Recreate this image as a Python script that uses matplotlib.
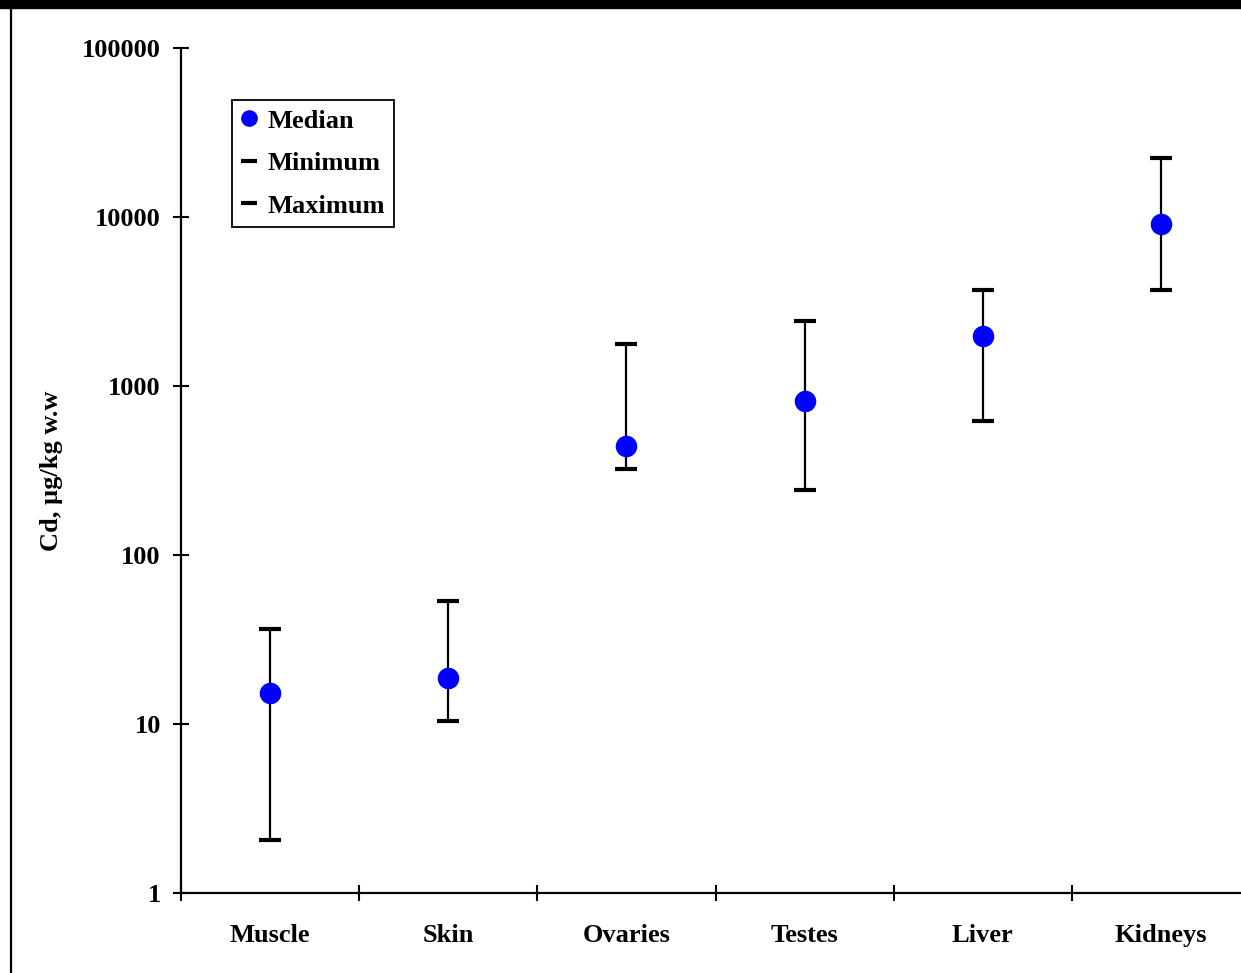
import numpy as np
import matplotlib.pyplot as plt
from matplotlib.patches import Rectangle
from matplotlib.lines import Line2D

# Cd concentrations, ug/kg wet weight
tissues = ['Muscle', 'Skin', 'Ovaries', 'Testes', 'Liver', 'Kidneys']
median = [15.3, 18.7, 442, 815, 1977, 9100]
minimum = [2.06, 10.4, 323, 242, 621, 3700]
maximum = [36.5, 53.4, 1773, 2425, 3700, 22300]

plt.rcParams['font.family'] = ['Liberation Serif', 'DejaVu Serif']
plt.rcParams['font.weight'] = 'bold'

fig = plt.figure(figsize=(12.41, 9.73), dpi=100)
ax = fig.add_axes([181/1241, 80/973, 1069/1241, 845/973])

x = np.arange(len(tissues)) + 0.5
ax.vlines(x, minimum, maximum, color='black', lw=1.6, zorder=2)
ax.plot(x, minimum, '_', color='black', ms=16, mew=3, zorder=3, label='Minimum')
ax.plot(x, maximum, '_', color='black', ms=16, mew=3, zorder=3, label='Maximum')
ax.plot(x, median, 'o', color='#0000ff', ms=14.5, zorder=4, label='Median')

ax.set_yscale('log')
ax.set_ylim(1, 100000)
ax.set_xlim(0, len(tissues))
ax.set_yticks([1, 10, 100, 1000, 10000, 100000])
ax.set_yticklabels(['1', '10', '100', '1000', '10000', '100000'])
ax.yaxis.set_minor_locator(plt.NullLocator())
# category boundaries get the ticks, names sit in between
ax.set_xticks(np.arange(len(tissues) + 1))
ax.set_xticklabels([])
ax.set_xticks(x, minor=True)
ax.set_xticklabels(tissues, minor=True)
ax.tick_params(axis='x', which='minor', length=0, pad=22, labelsize=19)
ax.tick_params(axis='x', which='major', direction='inout', length=11, width=1.5)
ax.tick_params(axis='y', direction='inout', length=11, width=1.5, pad=9, labelsize=19)

for s in ['top', 'right']:
    ax.spines[s].set_visible(False)
for s in ['left', 'bottom']:
    ax.spines[s].set_linewidth(1.6)

ax.set_ylabel('Cd, µg/kg w.w', fontsize=19, fontweight='bold', labelpad=14)

handles = [Line2D([], [], marker='o', color='#0000ff', ls='none', ms=11),
           Line2D([], [], marker='_', color='black', ls='none', ms=12, mew=3),
           Line2D([], [], marker='_', color='black', ls='none', ms=12, mew=3)]
leg = ax.legend(handles, ['Median', 'Minimum', 'Maximum'], loc='upper left',
                bbox_to_anchor=(51/1069, 1 - 52/845), fontsize=19, fancybox=False,
                framealpha=1, edgecolor='black', handlelength=0.6, handletextpad=0.38,
                borderpad=0.35, labelspacing=0.72, borderaxespad=0)
leg.get_frame().set_linewidth(1.3)

# frame bits around the figure
fig.patches.append(Rectangle((0, 1 - 8/973), 1, 8/973, transform=fig.transFigure,
                             color='black', zorder=10))
fig.lines.append(Line2D([10.5/1241, 10.5/1241], [0, 1], transform=fig.transFigure,
                        color='black', lw=1.6))

fig.savefig('out.png', dpi=100)
